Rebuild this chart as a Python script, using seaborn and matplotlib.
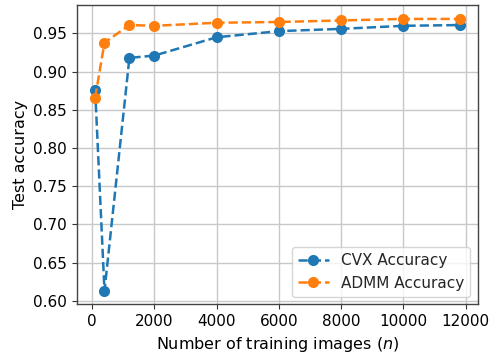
import matplotlib
matplotlib.use("Agg")
import matplotlib.pyplot as plt
import seaborn as sns
import pandas as pd

# Training-set sizes and test accuracies for both solvers
n_train = [100, 400, 1200, 2000, 4000, 6000, 8000, 10000, 11800]
cvx_acc = [0.876, 0.613, 0.918, 0.921, 0.945, 0.953, 0.956, 0.960, 0.961]
admm_acc = [0.866, 0.938, 0.961, 0.960, 0.964, 0.965, 0.967, 0.969, 0.969]
series_names = ["CVX Accuracy", "ADMM Accuracy"]

sns.set_style("whitegrid")
plt.rcParams["font.family"] = ["DejaVu Sans"]
plt.rcParams["mathtext.fontset"] = "dejavusans"

df = pd.DataFrame({
    "n": n_train * 2,
    "acc": cvx_acc + admm_acc,
    "method": [series_names[0]] * len(n_train) + [series_names[1]] * len(n_train),
})

fig, ax = plt.subplots(figsize=(4.9, 3.56), dpi=100)
palette = {series_names[0]: "#1f77b4", series_names[1]: "#ff7f0e"}
sns.lineplot(data=df, x="n", y="acc", hue="method", palette=palette,
             marker="o", markersize=8, markeredgewidth=0, linestyle="--",
             linewidth=1.8, ax=ax)

ax.set_xlabel("Number of training images ($n$)", fontsize=11.5, color="black")
ax.set_ylabel("Test accuracy", fontsize=11.5, color="black")
ax.set_xticks([0, 2000, 4000, 6000, 8000, 10000, 12000])
ax.set_yticks([0.60, 0.65, 0.70, 0.75, 0.80, 0.85, 0.90, 0.95])
ax.tick_params(axis="both", labelsize=11, length=3.5, width=0.8,
               color="#333333", labelcolor="black", left=True, bottom=True)
ax.grid(True, color="#c8c8c8", linewidth=1.0)
ax.margins(x=0.05, y=0.05)
for s in ax.spines.values():
    s.set_visible(True)
    s.set_color("#444444")
    s.set_linewidth(1.0)

leg = ax.legend(loc="lower right", fontsize=11, frameon=True, framealpha=0.8,
                handlelength=2.0)
leg.get_frame().set_edgecolor("#cccccc")
for h in leg.legend_handles:
    h.set_linestyle("--")

fig.subplots_adjust(left=0.157, right=0.975, top=0.985, bottom=0.145)
fig.savefig("out.png", dpi=100)
